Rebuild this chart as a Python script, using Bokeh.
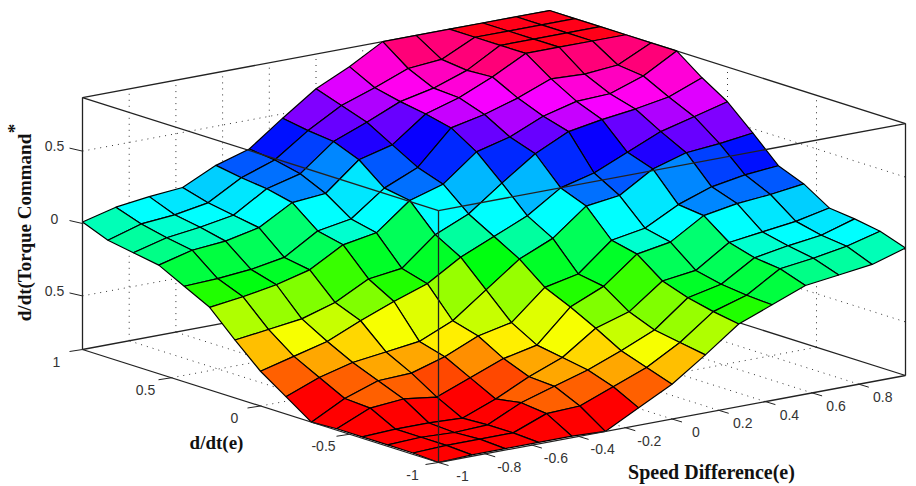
import colorsys
from bokeh.models import ColumnDataSource, Range1d
from bokeh.plotting import figure
from bokeh.embed import file_html
from bokeh.resources import INLINE
from bokeh.core.properties import value

# Surface heights. Rows run along d/dt(e), row index along Speed Difference.
z_00 = [-.87,-.86,-.86,-.86,-.86,-.87,-.75,-.63,-.47,-.30,-.21,-.12,-.09,-.06,.01]
z_01 = [-.86,-.85,-.85,-.85,-.76,-.75,-.66,-.57,-.44,-.27,-.20,-.06,-.03,.01,.07]
z_02 = [-.86,-.85,-.86,-.85,-.74,-.67,-.60,-.51,-.41,-.23,-.18,-.04,0,.03,.10]
z_03 = [-.86,-.85,-.85,-.86,-.77,-.66,-.57,-.41,-.34,-.17,-.14,.01,.04,.07,.12]
z_04 = [-.86,-.76,-.74,-.77,-.68,-.59,-.54,-.32,-.22,-.04,0,.14,.18,.20,.23]
z_05 = [-.87,-.75,-.67,-.66,-.59,-.49,-.44,-.24,-.19,0,.04,.16,.24,.28,.30]
z_06 = [-.75,-.66,-.60,-.57,-.54,-.44,-.27,-.10,0,.18,.21,.35,.42,.44,.47]
z_07 = [-.63,-.57,-.51,-.41,-.32,-.24,-.10,0,.10,.25,.31,.41,.51,.57,.63]
z_08 = [-.47,-.44,-.41,-.34,-.22,-.19,0,.10,.27,.43,.54,.58,.61,.65,.74]
z_09 = [-.30,-.27,-.23,-.17,-.04,0,.18,.25,.43,.49,.59,.65,.66,.74,.87]
z_10 = [-.21,-.20,-.18,-.14,0,.04,.21,.31,.54,.59,.66,.75,.74,.76,.87]
z_11 = [-.12,-.06,-.04,.01,.14,.16,.35,.41,.58,.65,.75,.87,.87,.87,.87]
z_12 = [-.09,-.03,0,.04,.18,.24,.42,.51,.61,.66,.74,.87,.87,.87,.87]
z_13 = [-.06,.01,.03,.07,.20,.28,.44,.57,.65,.74,.76,.87,.87,.87,.87]
z_14 = [.01,.07,.10,.12,.23,.30,.47,.63,.74,.87,.87,.87,.87,.87,.87]
Z = [z_00,z_01,z_02,z_03,z_04,z_05,z_06,z_07,z_08,z_09,z_10,z_11,z_12,z_13,z_14]

x_ticks = [-1,-.8,-.6,-.4,-.2,0,.2,.4,.6,.8]
x_labels = ["-1","-0.8","-0.6","-0.4","-0.2","0","0.2","0.4","0.6","0.8"]
y_ticks = [-1,-.5,0,.5,1]
y_labels = ["-1","-0.5","0","0.5","1"]
z_ticks = [.5,0,-.5]
z_labels = ["0.5","0","0.5"]
ZMIN, ZMAX = -.87, .87

def proj(x, y, z):
    """Orthographic view of the axes box, in page pixels."""
    return (438 + (x+1)*233.5 - (y+1)*178.0,
            462 - (x+1)*43.5 - (y+1)*56.5 - (z-ZMIN)*144.8)

def colour(z):
    t = (z-ZMIN)/(ZMAX-ZMIN)
    idx = min(int(t*64), 63)
    r, g, b = colorsys.hsv_to_rgb(idx/64, 1, 1)
    return "#%02x%02x%02x" % (round(r*255), round(g*255), round(b*255))

def seg(a, b):
    pa, pb = proj(*a), proj(*b)
    return [pa[0], pb[0]], [pa[1], pb[1]]

def add_lines(p, segs, **kw):
    p.multi_line([s[0] for s in segs], [s[1] for s in segs], **kw)

p = figure(width=916, height=486, output_backend="svg", toolbar_location=None,
           x_range=Range1d(0, 916), y_range=Range1d(486, 0),
           min_border=0, outline_line_color=None, background_fill_color="white")
p.axis.visible = False
p.grid.visible = False

# dotted grid on the back walls and floor
dots = []
for x in x_ticks[1:]:
    dots.append(seg((x,-1,ZMIN),(x,1,ZMIN)))
    dots.append(seg((x,1,ZMIN),(x,1,ZMAX)))
for y in y_ticks[1:-1]:
    dots.append(seg((-1,y,ZMIN),(1,y,ZMIN)))
    dots.append(seg((1,y,ZMIN),(1,y,ZMAX)))
for z in z_ticks:
    dots.append(seg((-1,1,z),(1,1,z)))
    dots.append(seg((1,1,z),(1,-1,z)))
add_lines(p, dots, line_color="#333333", line_width=1, line_dash="1 5")

# back edges of the box
back = [seg((-1,1,ZMIN),(1,1,ZMIN)), seg((1,-1,ZMIN),(1,1,ZMIN)), seg((1,1,ZMIN),(1,1,ZMAX)),
        seg((-1,1,ZMAX),(1,1,ZMAX)), seg((1,-1,ZMAX),(1,1,ZMAX))]
add_lines(p, back, line_color="#222222", line_width=1.3)

# surface, back to front
n = len(Z)
coord = [-1 + 2*k/(n-1) for k in range(n)]
cells = sorted(((i, j) for i in range(n-1) for j in range(n-1)), key=lambda c: -(c[0]+c[1]))
xs, ys, cols = [], [], []
for i, j in cells:
    pts = [proj(coord[a], coord[b], Z[a][b]) for a, b in ((i,j),(i+1,j),(i+1,j+1),(i,j+1))]
    xs.append([q[0] for q in pts]); ys.append([q[1] for q in pts]); cols.append(colour(Z[i][j]))
p.patches("xs", "ys", source=ColumnDataSource(dict(xs=xs, ys=ys, c=cols)),
          fill_color="c", line_color="#000000", line_width=1.2)

# front edges of the box, over the surface
front = [seg((-1,1,ZMIN),(-1,-1,ZMIN)), seg((-1,-1,ZMIN),(1,-1,ZMIN)),
         seg((-1,1,ZMAX),(-1,-1,ZMAX)), seg((-1,-1,ZMAX),(1,-1,ZMAX)),
         seg((-1,-1,ZMIN),(-1,-1,ZMAX)), seg((-1,1,ZMIN),(-1,1,ZMAX)), seg((1,-1,ZMIN),(1,-1,ZMAX))]
add_lines(p, front, line_color="#222222", line_width=1.3)

# ticks
tx, ty, lx, ly, lt = [], [], [], [], []
for x, s in zip(x_ticks, x_labels):
    a = proj(x,-1,ZMIN); tx.append([a[0], a[0]+10]); ty.append([a[1], a[1]+3])
    lx.append(a[0]+24); ly.append(a[1]+13); lt.append(s)
for y, s in zip(y_ticks, y_labels):
    a = proj(-1,y,ZMIN); tx.append([a[0], a[0]-13]); ty.append([a[1], a[1]+2])
    lx.append(a[0]-26); ly.append(a[1]+12); lt.append(s)
for z, s in zip(z_ticks, z_labels):
    a = proj(-1,1,z); tx.append([a[0], a[0]-13]); ty.append([a[1], a[1]-3])
    lx.append(a[0]-28); ly.append(a[1]-5); lt.append(s)
p.multi_line(tx, ty, line_color="#222222", line_width=1)
p.text(lx, ly, text=lt, text_font=value("Liberation Sans"), text_font_size="14px",
       text_color="#333333", text_align="center", text_baseline="middle")

# axis titles
serif = value("Liberation Serif")
p.text([711], [471], text=["Speed Difference(e)"], text_font=serif, text_font_style="bold",
       text_font_size="20px", text_color="#111111", text_align="center", text_baseline="middle")
p.text([216], [442], text=["d/dt(e)"], text_font=serif, text_font_style="bold",
       text_font_size="19px", text_color="#111111", text_align="center", text_baseline="middle")
p.text([24], [227], text=["d/dt(Torque Command"], text_font=serif, text_font_style="bold",
       text_font_size="19px", text_color="#111111", text_align="center", text_baseline="middle", angle=1.5708)
p.text([14], [128], text=["*"], text_font=serif, text_font_style="bold",
       text_font_size="19px", text_color="#111111", text_align="center", text_baseline="middle", angle=1.5708)

open("out.html", "w").write(file_html(p, INLINE))
